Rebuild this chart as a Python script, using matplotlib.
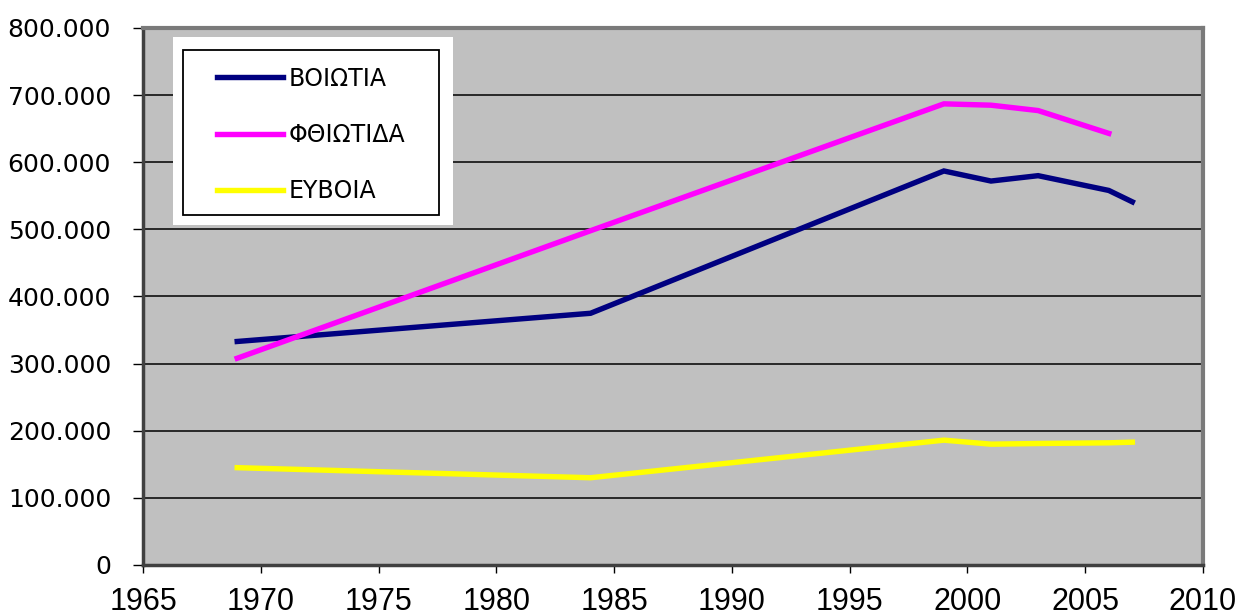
import matplotlib
matplotlib.use('Agg')
import matplotlib.pyplot as plt
from matplotlib.patches import Rectangle
from matplotlib.ticker import FuncFormatter, MultipleLocator

plt.rcParams['font.family'] = ['DejaVu Sans']

# data (population, thousands separator shown as '.')
years_boiotia = [1969, 1984, 1999, 2001, 2003, 2006, 2007]
boiotia = [333000, 375000, 587000, 572000, 580000, 558000, 541000]

years_fthiotida = [1969, 1984, 1999, 2001, 2003, 2006]
fthiotida = [308000, 498000, 687000, 685000, 677000, 643000]

years_evoia = [1969, 1984, 1999, 2001, 2003, 2006, 2007]
evoia = [145000, 130000, 186000, 180000, 181000, 182000, 183000]

labels = ['ΒΟΙΩΤΙΑ', 'ΦΘΙΩΤΙΔΑ', 'ΕΥΒΟΙΑ']
colors = ['#000080', '#FF00FF', '#FFFF00']

fig = plt.figure(figsize=(12.35, 6.15), dpi=100)
ax = fig.add_axes([143 / 1235, 50 / 615, 1060 / 1235, 537 / 615])
ax.set_facecolor('#C0C0C0')

for xs, ys, lab, col in zip([years_boiotia, years_fthiotida, years_evoia],
                            [boiotia, fthiotida, evoia], labels, colors):
    ax.plot(xs, ys, color=col, linewidth=3.9, label=lab,
            solid_joinstyle='miter', zorder=3)

ax.set_xlim(1965, 2010)
ax.set_ylim(0, 800000)
ax.xaxis.set_major_locator(MultipleLocator(5))
ax.yaxis.set_major_locator(MultipleLocator(100000))
ax.yaxis.set_major_formatter(FuncFormatter(lambda v, p: '{:,.0f}'.format(v).replace(',', '.')))
ax.grid(True, axis='y', color='black', linewidth=1.1)
ax.set_axisbelow(True)

ax.tick_params(axis='y', direction='out', length=7, width=1, labelsize=18, pad=16)
ax.tick_params(axis='x', direction='out', length=6, width=1, labelsize=22, pad=10)
for t in ax.get_xticklabels():
    t.set_family(['Liberation Sans', 'DejaVu Sans'])

for side in ['top', 'right']:
    ax.spines[side].set_color('#7a7a7a')
    ax.spines[side].set_linewidth(3)
for side in ['left', 'bottom']:
    ax.spines[side].set_color('#404040')
    ax.spines[side].set_linewidth(2.5)

# white box and black frame behind the legend
ax.add_patch(Rectangle((0.0283, 0.633), 0.2642, 0.350, transform=ax.transAxes,
                       facecolor='white', edgecolor='none', zorder=4))
ax.add_patch(Rectangle((0.0377, 0.6518), 0.2415, 0.307, transform=ax.transAxes,
                       facecolor='white', edgecolor='black', linewidth=1.3, zorder=4))
leg = ax.legend(loc='upper left', bbox_to_anchor=(0.0698, 0.928), borderaxespad=0,
                fontsize=17, handlelength=2.78, handletextpad=0.26,
                labelspacing=1.36, borderpad=0, frameon=False)
leg.set_zorder(5)

fig.savefig('out.png', dpi=100)
